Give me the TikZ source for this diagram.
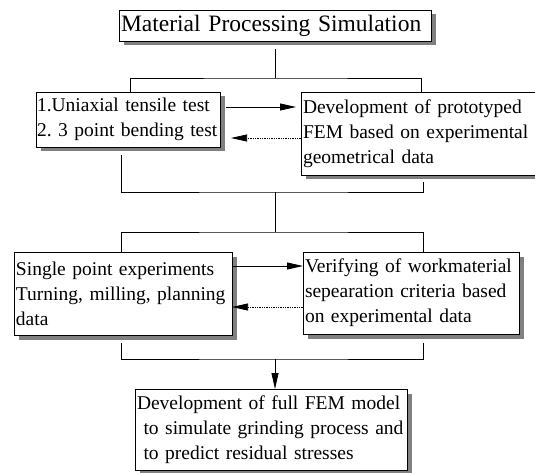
\documentclass[tikz,border=0pt]{standalone}
\usepackage{fontspec}
\setmainfont{Liberation Serif}
\frenchspacing
\usepackage{tikz}
\usetikzlibrary{
  arrows.meta,
  positioning,
  shadows
}
\tikzset{
  stage/.style={draw, fill=white, line width=0.8pt, align=left,
    inner xsep=2pt, inner ysep=0pt, outer sep=0pt,
    font=\fontsize{19.5}{25}\selectfont,
    drop shadow={shadow xshift=4.5pt, shadow yshift=-4.5pt, fill=black!50, opacity=1}},
  link/.style={line width=0.75pt},
  flow/.style={link, -{Triangle[length=16pt, width=7pt]}},
  back/.style={flow, densely dotted},
}

\begin{document}
\begin{tikzpicture}[x=1pt, y=1pt]
      \useasboundingbox (0,0) rectangle (535,-473);
      \node (title) [stage, anchor=north west, text width=308pt, minimum height=31pt,
        font=\fontsize{23.5}{28}\selectfont] at (119,-10) {Material Processing Simulation};
      \node (tests) [stage, anchor=north west, inner xsep=1pt, text width=182pt, minimum height=55pt] at (36,-92) {
        \mbox{1.Uniaxial tensile test} \\
        \mbox{2. 3 point bending test}
      };
      \node (proto) [stage, right=81pt of tests.north east, anchor=north west,
        text width=236pt, minimum height=83pt] {
        Development of prototyped \\
        FEM based on experimental \\
        geometrical data
      };
      \node (single) [stage, anchor=north west, text width=214pt, minimum height=83pt] at (14,-252) {
        Single point experiments \\
        Turning, milling, planning \\
        data
      };
      \node (verify) [stage, right=71pt of single.north east, anchor=north west,
        text width=212pt, minimum height=82pt] {
        Verifying of workmaterial \\
        sepearation criteria based \\
        on experimental data
      };
      \node (full) [stage, anchor=north west, text width=268pt, minimum height=81pt] at (135,-389) {
        Development of full FEM model \\
        ~to simulate grinding process and \\
        ~to predict residual stresses
      };

      \coordinate (bus1) at ([yshift=-37pt]title.south);
      \coordinate (merge1) at ([yshift=-45pt]tests.south -| title.south);
      \coordinate (bus2) at ([yshift=20pt]single.north -| title.south);
      \coordinate (merge2) at ([yshift=-24pt]single.south -| title.south);

      \draw[link] ([yshift=-8pt]title.south) -- (bus1);
      \draw[link] ([xshift=2pt]tests.north) |- (bus1) -| (proto.north);
      \draw[flow] ([xshift=6pt, yshift=-15pt]tests.north east) -- ([xshift=-5pt, yshift=-15pt]proto.north west);
      \draw[back] ([yshift=-46pt]proto.north west) -- ([xshift=11pt, yshift=-46pt]tests.north east);
      \draw[link] ([xshift=-7pt, yshift=-8pt]tests.south) |- (merge1) -| ([xshift=2pt, yshift=-7pt]proto.south);
      \draw[link] (merge1) -- (bus2);
      \draw[link] ([xshift=-2pt]single.north) |- (bus2) -| ([xshift=12pt]verify.north);
      \draw[flow] ([yshift=-14pt]single.north east) -- ([yshift=-14pt]verify.north west);
      \draw[back] ([yshift=-55pt]verify.north west) -- ([yshift=-55pt]single.north east);
      \draw[link] ([xshift=-2pt, yshift=-8pt]single.south) |- (merge2) -| ([xshift=12pt, yshift=-9pt]verify.south);
      \draw[flow] (merge2) -- (merge2 |- full.north);
    \end{tikzpicture}
\end{document}
